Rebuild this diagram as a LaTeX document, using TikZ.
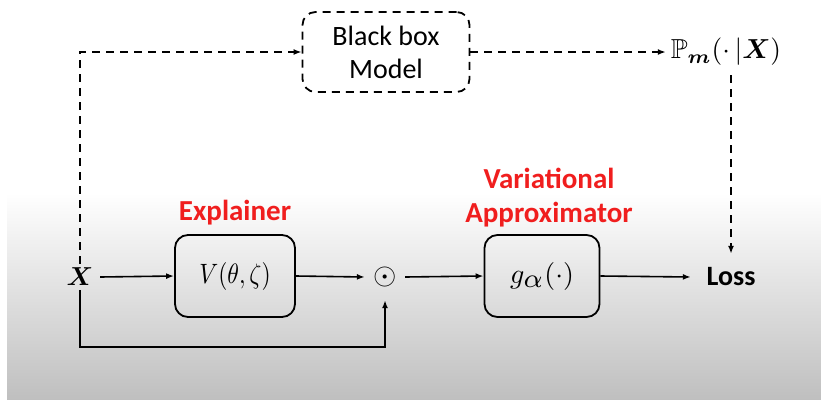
\documentclass[tikz,border=0pt]{standalone}
\usepackage{amsmath,amssymb,bm}
\usepackage{fontspec}
\setmainfont{Carlito}
\usetikzlibrary{arrows.meta,calc}
\definecolor{expred}{RGB}{240,30,30}
\newcommand{\bigmath}[3]{\scalebox{#1}[#2]{$#3$}}
\begin{document}
\begin{tikzpicture}[x=1pt,y=-1pt,
  box/.style={draw,line width=1.8pt,rounded corners=13pt,minimum width=120pt,minimum height=82pt,inner sep=0pt},
  dbox/.style={draw,line width=1.8pt,dash pattern=on 8pt off 6pt,rounded corners=13pt,minimum width=167pt,minimum height=80pt,inner sep=0pt,align=center,font=\fontsize{28}{33}\selectfont},
  conn/.style={line width=1.6pt,-{Latex[length=8pt,width=6pt]}},
  dconn/.style={line width=1.6pt,dash pattern=on 8pt off 6pt,-{Latex[length=8pt,width=6pt]}},
  lbl/.style={text=expred,font=\fontsize{29}{34}\selectfont\bfseries,align=center},
  plain/.style={inner sep=0pt}]
\useasboundingbox (0,0) rectangle (821,399);
\shade[top color=white,bottom color=gray!50] (7,193) rectangle (821,399);
% nodes
\node[plain,minimum width=40pt,minimum height=24pt] (X) at (80,277) {\bigmath{2.6}{2.6}{\bm{X}}};
\node[box] (V) at (235,276) {\bigmath{2.35}{2.8}{V(\theta,\zeta)}};
\node[plain,minimum width=40pt,minimum height=46pt] (dot) at (385,277) {\bigmath{3.0}{3.0}{\odot}};
\node[box,minimum width=115pt] (g) at (542,276) {\bigmath{2.8}{2.8}{g_{\scalebox{1.35}{$\scriptstyle\alpha$}}(\cdot)}};
\node[plain,minimum width=80pt,minimum height=46pt] (loss) at (731,277) {\fontsize{28}{32}\selectfont\bfseries Loss};
\node[dbox] (bb) at (386,52) {Black box\\Model};
\node[plain,minimum width=120pt,minimum height=46pt] (P) at (726,52) {\bigmath{2.75}{2.75}{\mathbb{P}_{\bm{m}}(\cdot\,|\bm{X})}};
\node[lbl] (expl) at (235,213) {Explainer};
\node[lbl] (va) at (549,198) {Variational\\Approximator};
% connectors
\draw[conn] (X.east) -- (V.west);
\draw[conn] (V.east) -- (dot.west);
\draw[conn] (dot.east) -- (g.west);
\draw[conn] (g.east) -- (loss.west);
\draw[conn] ([yshift=-1pt]X.south) -- ++(0,57) -| (dot.south);
\draw[dconn] ([yshift=1pt]X.north) |- (bb.west);
\draw[dconn] (bb.east) -- (P.west);
\draw[dconn] (loss.north |- P.south) -- (loss.north);
\end{tikzpicture}
\end{document}
